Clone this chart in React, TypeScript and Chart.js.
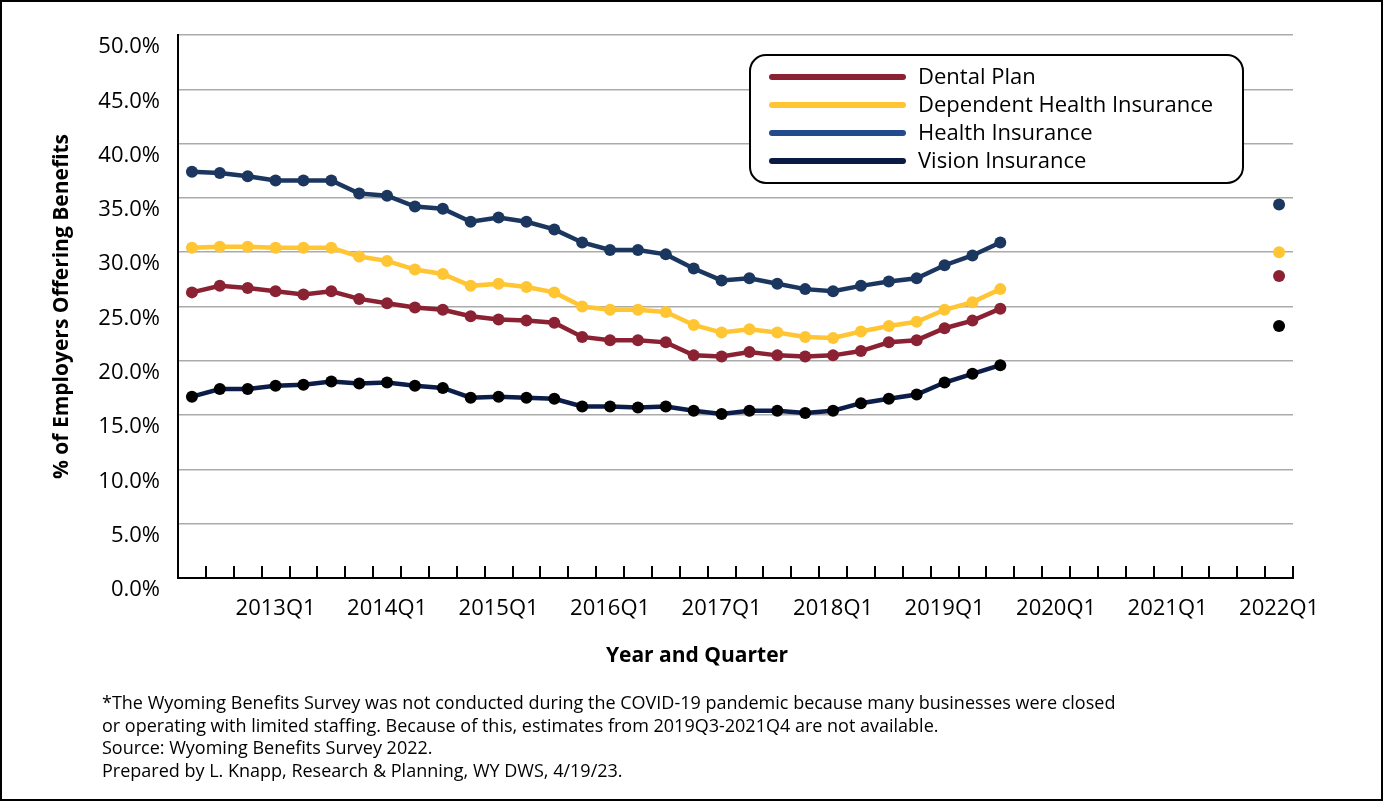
import { useEffect, useRef } from 'react';
import { Chart, registerables } from 'chart.js';

Chart.register(...registerables);

const FONT = '"Open Sans", "Noto Sans", sans-serif';

const quarters = [
  '2012Q2', '2012Q3', '2012Q4',
  '2013Q1', '2013Q2', '2013Q3', '2013Q4',
  '2014Q1', '2014Q2', '2014Q3', '2014Q4',
  '2015Q1', '2015Q2', '2015Q3', '2015Q4',
  '2016Q1', '2016Q2', '2016Q3', '2016Q4',
  '2017Q1', '2017Q2', '2017Q3', '2017Q4',
  '2018Q1', '2018Q2', '2018Q3', '2018Q4',
  '2019Q1', '2019Q2', '2019Q3', '2019Q4',
  '2020Q1', '2020Q2', '2020Q3', '2020Q4',
  '2021Q1', '2021Q2', '2021Q3', '2021Q4',
  '2022Q1',
];

const gap = [null, null, null, null, null, null, null, null, null];

const dentalPlan = [
  26.3, 26.9, 26.7, 26.4, 26.1, 26.4, 25.7, 25.3, 24.9, 24.7,
  24.1, 23.8, 23.7, 23.5, 22.2, 21.9, 21.9, 21.7, 20.5, 20.4,
  20.8, 20.5, 20.4, 20.5, 20.9, 21.7, 21.9, 23.0, 23.7, 24.8,
  ...gap, 27.8,
];

const dependentHealth = [
  30.4, 30.5, 30.5, 30.4, 30.4, 30.4, 29.6, 29.2, 28.4, 28.0,
  26.9, 27.1, 26.8, 26.3, 25.0, 24.7, 24.7, 24.5, 23.3, 22.6,
  22.9, 22.6, 22.2, 22.1, 22.7, 23.2, 23.6, 24.7, 25.4, 26.6,
  ...gap, 30.0,
];

const healthInsurance = [
  37.4, 37.3, 37.0, 36.6, 36.6, 36.6, 35.4, 35.2, 34.2, 34.0,
  32.8, 33.2, 32.8, 32.1, 30.9, 30.2, 30.2, 29.8, 28.5, 27.4,
  27.6, 27.1, 26.6, 26.4, 26.9, 27.3, 27.6, 28.8, 29.7, 30.9,
  ...gap, 34.4,
];

const visionInsurance = [
  16.7, 17.4, 17.4, 17.7, 17.8, 18.1, 17.9, 18.0, 17.7, 17.5,
  16.6, 16.7, 16.6, 16.5, 15.8, 15.8, 15.7, 15.8, 15.4, 15.1,
  15.4, 15.4, 15.2, 15.4, 16.1, 16.5, 16.9, 18.0, 18.8, 19.6,
  ...gap, 23.2,
];

const seriesNames = ['Dental Plan', 'Dependent Health Insurance', 'Health Insurance', 'Vision Insurance'];
const lineColors = ['#8B2233', '#FFC533', '#1C375F', '#0B1D48'];
const pointColors = ['#8B2233', '#FFC533', '#1C375F', '#000000'];
const legendColors = ['#8B2233', '#FFC533', '#234A8C', '#0B1A45'];

const footnotes = [
  '*The Wyoming Benefits Survey was not conducted during the COVID-19 pandemic because many businesses were closed',
  'or operating with limited staffing. Because of this, estimates from 2019Q3-2021Q4 are not available.',
  'Source: Wyoming Benefits Survey 2022.',
  'Prepared by L. Knapp, Research & Planning, WY DWS, 4/19/23.',
];

export default function App() {
  const ref = useRef<HTMLCanvasElement>(null);

  useEffect(() => {
    const canvas = ref.current;
    if (!canvas) return;
    Chart.defaults.font.family = FONT;

    const innerTicks = {
      id: 'innerTicks',
      afterDraw(chart: any) {
        const { ctx, chartArea } = chart;
        const n = chart.data.labels.length;
        const step = (chartArea.right - chartArea.left) / n;
        ctx.save();
        ctx.strokeStyle = '#000';
        ctx.lineWidth = 2;
        ctx.beginPath();
        for (let i = 1; i <= n; i++) {
          const x = Math.round(chartArea.left + i * step);
          ctx.moveTo(x, chartArea.bottom - 12);
          ctx.lineTo(x, chartArea.bottom);
        }
        ctx.stroke();
        ctx.restore();
      },
    };

    const xTitle = {
      id: 'xTitle',
      afterDraw(chart: any) {
        const { ctx } = chart;
        ctx.save();
        ctx.fillStyle = '#000';
        ctx.font = `bold 21px ${FONT}`;
        ctx.textAlign = 'center';
        ctx.textBaseline = 'middle';
        ctx.fillText('Year and Quarter', 697, 656);
        ctx.restore();
      },
    };

    const boxLegend = {
      id: 'boxLegend',
      afterDraw(chart: any) {
        const { ctx } = chart;
        const x = 750, y = 55, w = 493, h = 128, r = 16;
        ctx.save();
        ctx.beginPath();
        ctx.moveTo(x + r, y);
        ctx.arcTo(x + w, y, x + w, y + h, r);
        ctx.arcTo(x + w, y + h, x, y + h, r);
        ctx.arcTo(x, y + h, x, y, r);
        ctx.arcTo(x, y, x + w, y, r);
        ctx.closePath();
        ctx.fillStyle = '#fff';
        ctx.fill();
        ctx.lineWidth = 2;
        ctx.strokeStyle = '#000';
        ctx.stroke();
        ctx.font = `22px ${FONT}`;
        ctx.textBaseline = 'middle';
        ctx.textAlign = 'left';
        chart.data.datasets.forEach((ds: any, i: number) => {
          const cy = 77 + i * 28;
          ctx.beginPath();
          ctx.lineCap = 'round';
          ctx.lineWidth = 6;
          ctx.strokeStyle = ds.legendColor;
          ctx.moveTo(772, cy);
          ctx.lineTo(903, cy);
          ctx.stroke();
          ctx.fillStyle = '#000';
          ctx.fillText(ds.label, 918, cy + 1);
        });
        ctx.restore();
      },
    };

    const values = [dentalPlan, dependentHealth, healthInsurance, visionInsurance];

    const chart = new Chart(canvas, {
      type: 'line',
      data: {
        labels: quarters,
        datasets: values.map((v, i) => ({
          label: seriesNames[i],
          data: v,
          borderColor: lineColors[i],
          backgroundColor: pointColors[i],
          pointBackgroundColor: pointColors[i],
          pointBorderColor: pointColors[i],
          pointBorderWidth: 0,
          pointRadius: 6,
          borderWidth: 4.5,
          tension: 0,
          spanGaps: false,
          legendColor: legendColors[i],
        })) as any,
      },
      options: {
        animation: false,
        responsive: true,
        maintainAspectRatio: false,
        events: [],
        layout: { padding: { left: 0, right: 90, top: 35, bottom: 0 } },
        plugins: {
          legend: { display: false },
          tooltip: { enabled: false },
        },
        scales: {
          x: {
            type: 'category',
            offset: true,
            grid: { display: false, drawTicks: false },
            border: { display: true, color: '#000', width: 2 },
            ticks: {
              autoSkip: false,
              maxRotation: 0,
              minRotation: 0,
              padding: 18,
              color: '#000',
              font: { size: 22, family: FONT },
              callback(value: any) {
                const lab = quarters[value as number];
                return lab && lab.endsWith('Q1') ? lab : '';
              },
            },
            afterFit(scale: any) {
              scale.height = 801 - 578;
            },
          },
          y: {
            min: 0,
            max: 50,
            grid: { color: '#ababab', lineWidth: 1.5, drawTicks: false },
            border: { display: true, color: '#000', width: 2 },
            ticks: {
              stepSize: 5,
              padding: 18,
              labelOffset: 12,
              color: '#000',
              font: { size: 22, family: FONT },
              callback(value: any) {
                return Number(value).toFixed(1) + '%';
              },
            },
            title: {
              display: true,
              text: '% of Employers Offering Benefits',
              color: '#000',
              font: { size: 21, weight: 'bold', family: FONT },
              padding: { top: 49, bottom: 0 },
            },
            afterFit(scale: any) {
              scale.width = 178;
            },
          },
        },
      },
      plugins: [innerTicks, xTitle, boxLegend],
    });

    return () => chart.destroy();
  }, []);

  return (
    <div style={{ position: 'fixed', left: 0, top: 0, width: 1383, height: 801, background: '#fff' }}>
      <div style={{ position: 'absolute', left: 0, top: 0, width: 1383, height: 801 }}>
        <canvas ref={ref} />
      </div>
      <div
        style={{
          position: 'absolute',
          left: 102,
          top: 691,
          fontFamily: FONT,
          fontSize: 18,
          lineHeight: '22.7px',
          color: '#000',
          whiteSpace: 'pre',
        }}
      >
        {footnotes.map((t, i) => (
          <div key={i}>{t}</div>
        ))}
      </div>
      <div
        style={{
          position: 'absolute',
          left: 0,
          top: 0,
          width: 1383,
          height: 801,
          boxSizing: 'border-box',
          border: '2px solid #000',
          pointerEvents: 'none',
        }}
      />
    </div>
  );
}
